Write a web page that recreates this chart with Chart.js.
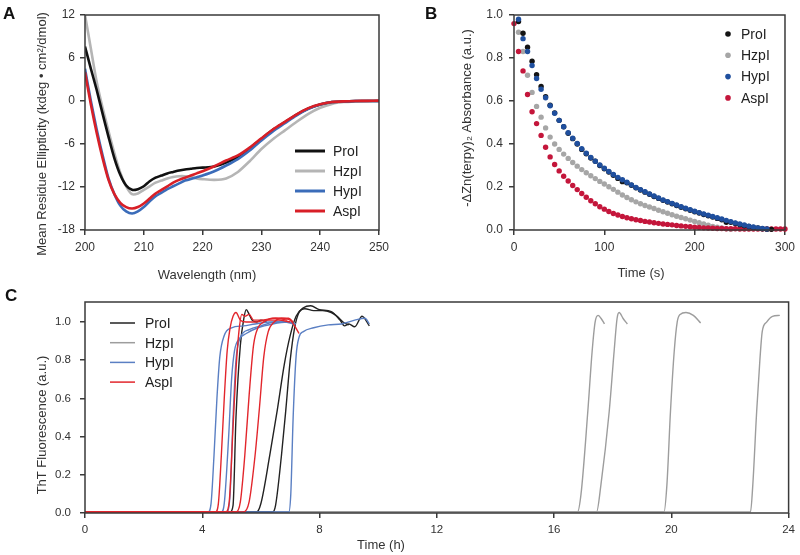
<!DOCTYPE html>
<html>
<head>
<meta charset="utf-8">
<title>CD, Zn(terpy)2 and ThT panels</title>
<script src="https://cdn.jsdelivr.net/npm/chart.js@4.4.1/dist/chart.umd.min.js"></script>
<style>
  body { margin: 0; background: #fff; }
  .panel { position: absolute; }
  #panelA { left: 0; top: 0; }
  #panelB { left: 400px; top: 0; }
  #panelC { left: 0; top: 285px; }
</style>
</head>
<body>
<canvas id="panelA" class="panel" width="400" height="290"></canvas>
<canvas id="panelB" class="panel" width="400" height="290"></canvas>
<canvas id="panelC" class="panel" width="800" height="270"></canvas>
<script>
const FONT = "'Liberation Sans', Arial, Helvetica, sans-serif";
const AXIS_COLOR = '#3a3a3a';

const peptides = ['ProI', 'HzpI', 'HypI', 'AspI'];

// Panel A: CD spectra (kdeg cm2/dmol)
const wavelengths = [200,201,202,203,204,205,206,207,208,209,210,211,212,213,214,215,216,217,218,219,220,222,224,226,228,230,232,234,236,238,240,242,244,246,248,250];
const cdPro = [7.6,4.5,1.5,-1.8,-5.0,-8.0,-10.3,-11.8,-12.4,-12.3,-11.9,-11.2,-10.7,-10.4,-10.1,-9.9,-9.7,-9.55,-9.45,-9.35,-9.3,-9.15,-8.6,-7.8,-6.6,-5.3,-4.0,-2.95,-1.9,-1.05,-0.5,-0.15,-0.05,0,0,0];
const cdHzp = [12,7.3,2.6,-1.0,-4.2,-7.3,-10.0,-11.9,-13.0,-12.9,-12.4,-11.9,-11.4,-11.1,-10.8,-10.6,-10.5,-10.5,-10.6,-10.8,-10.9,-11.0,-10.8,-9.9,-8.4,-6.7,-5.3,-4.1,-2.9,-1.8,-0.95,-0.4,-0.15,-0.05,0,0];
const cdHyp = [4.5,0,-4.0,-7.6,-10.8,-13.0,-14.6,-15.4,-15.7,-15.4,-14.8,-14.0,-13.3,-12.8,-12.3,-11.9,-11.5,-11.1,-10.9,-10.65,-10.4,-9.8,-9.0,-8.1,-6.9,-5.5,-4.2,-3.1,-2.0,-1.1,-0.5,-0.15,-0.05,0,0,0];
const cdAsp = [4.0,-0.5,-4.5,-8.0,-11.0,-13.0,-14.2,-14.8,-15.0,-14.8,-14.3,-13.6,-12.9,-12.4,-11.9,-11.4,-11.0,-10.7,-10.4,-10.1,-9.8,-9.1,-8.3,-7.6,-6.5,-5.2,-3.95,-2.9,-1.85,-1.0,-0.45,-0.15,-0.05,0,0.02,0.05];

// Panel B: -dZn(terpy)2 absorbance vs time (s)
const timesSec = [0,5,10,15,20,25,30,35,40,45,50,55,60,65,70,75,80,85,90,95,100,105,110,115,120,125,130,135,140,145,150,155,160,165,170,175,180,185,190,195,200,205,210,215,220,225,230,235,240,245,250,255,260,265,270,275,280,285,290,295,300];
const absPro = [null,0.97,0.915,0.85,0.785,0.722,0.668,0.62,0.58,0.545,0.51,0.48,0.45,0.425,0.40,0.375,0.355,0.335,0.32,0.30,0.285,0.27,0.255,0.24,0.225,0.22,0.208,0.196,0.186,0.176,0.166,0.156,0.147,0.138,0.13,0.122,0.114,0.106,0.099,0.092,0.085,0.079,0.072,0.066,0.06,0.054,0.048,0.036,0.036,0.03,0.025,0.02,0.016,0.012,0.009,0.006,0.004,0.003,null,null,null];
const absHzp = [null,0.92,0.83,0.72,0.64,0.575,0.525,0.475,0.432,0.40,0.375,0.353,0.333,0.314,0.297,0.281,0.266,0.252,0.239,0.226,0.214,0.201,0.189,0.176,0.163,0.151,0.141,0.131,0.122,0.114,0.107,0.10,0.092,0.085,0.078,0.071,0.064,0.058,0.052,0.046,0.04,0.034,0.028,0.022,0.017,0.013,0.009,0.006,0.004,null,null,null,null,null,null,null,null,null,null,null,null];
const absHyp = [null,0.98,0.89,0.83,0.765,0.705,0.655,0.615,0.578,0.543,0.51,0.48,0.452,0.427,0.402,0.378,0.357,0.337,0.32,0.302,0.287,0.272,0.258,0.245,0.234,0.222,0.21,0.198,0.188,0.178,0.168,0.158,0.149,0.14,0.132,0.124,0.116,0.108,0.101,0.094,0.087,0.081,0.075,0.069,0.063,0.057,0.051,0.045,0.039,0.033,0.028,0.023,0.018,0.014,0.01,0.007,0.005,null,null,null,null];
const absAsp = [0.96,0.83,0.74,0.63,0.55,0.495,0.44,0.385,0.34,0.305,0.275,0.25,0.228,0.207,0.188,0.17,0.152,0.136,0.122,0.108,0.097,0.086,0.077,0.07,0.063,0.057,0.052,0.048,0.044,0.04,0.037,0.034,0.031,0.028,0.026,0.024,0.021,0.019,0.017,0.015,0.013,0.012,0.01,0.009,0.008,0.007,0.007,0.006,0.006,0.006,0.005,0.005,0.005,0.005,0.005,0.005,0.005,0.005,0.005,0.005,0.005];

// Panel C: ThT fluorescence runs, [time (h), signal]
const proRun1 = [[0,0.005],[4.95,0.005],[5.05,0.04],[5.15,0.5],[5.3,0.88],[5.42,1.02],[5.5,1.065],[5.6,1.04],[5.7,1.01],[5.85,1.0],[6.0,1.01],[6.2,1.0]];
const proRun2 = [[0,0.005],[5.85,0.005],[6.0,0.05],[6.3,0.3],[6.56,0.54],[6.8,0.78],[7.0,0.93],[7.2,1.03],[7.45,1.075],[7.7,1.085],[8.0,1.065],[8.4,1.055],[8.7,1.01],[8.85,0.98],[9.0,0.99],[9.2,0.975],[9.45,1.03],[9.7,0.98]];
const proRun3 = [[0,0.005],[6.4,0.005],[6.5,0.04],[6.7,0.3],[6.85,0.54],[7.0,0.8],[7.15,0.97],[7.3,1.05],[7.5,1.07],[7.8,1.06],[8.1,1.06],[8.4,1.05],[8.6,1.03],[8.8,1.0],[9.0,0.985]];
const hzpRun1 = [[0,0.006],[16.8,0.006],[16.92,0.1],[17.15,0.53],[17.3,0.85],[17.4,1.0],[17.5,1.035],[17.6,1.02],[17.72,0.99]];
const hzpRun2 = [[0,0.006],[17.45,0.006],[17.6,0.15],[17.88,0.53],[18.05,0.85],[18.15,1.02],[18.22,1.05],[18.35,1.02],[18.5,0.99]];
const hzpRun3 = [[0,0.006],[19.75,0.006],[19.85,0.15],[19.97,0.53],[20.1,0.85],[20.2,1.0],[20.3,1.04],[20.5,1.05],[20.75,1.035],[21.0,0.995]];
const hzpRun4 = [[0,0.006],[22.7,0.006],[22.78,0.15],[22.91,0.53],[23.02,0.8],[23.1,0.95],[23.25,1.0],[23.45,1.03],[23.7,1.035]];
const hypRun1 = [[0,0.005],[4.2,0.005],[4.3,0.05],[4.4,0.3],[4.5,0.6],[4.6,0.82],[4.75,0.93],[5.0,0.97],[5.4,0.98],[5.8,0.99],[6.3,1.0],[6.8,1.0],[7.1,0.99]];
const hypRun2 = [[0,0.005],[4.65,0.005],[4.75,0.05],[4.9,0.4],[5.0,0.7],[5.1,0.85],[5.25,0.91],[5.5,0.94],[5.9,0.97],[6.4,0.99],[6.9,1.0],[7.2,0.99]];
const hypRun3 = [[0,0.005],[4.85,0.005],[4.95,0.1],[5.05,0.5],[5.15,0.8],[5.3,0.92],[5.6,0.96],[6.0,0.98],[6.5,1.0],[7.0,1.0]];
const hypRun4 = [[0,0.005],[6.95,0.005],[7.02,0.1],[7.1,0.5],[7.2,0.82],[7.3,0.92],[7.45,0.95],[7.8,0.97],[8.3,0.985],[8.75,0.99],[9.2,1.01],[9.55,1.02],[9.7,0.99]];
const aspRun1 = [[0,0.005],[4.45,0.005],[4.55,0.05],[4.65,0.3],[4.75,0.6],[4.85,0.85],[4.95,0.97],[5.05,1.03],[5.15,1.05],[5.3,1.01],[5.5,1.0],[5.8,1.0],[6.2,1.01],[6.6,1.01],[7.0,1.0]];
const aspRun2 = [[0,0.005],[4.8,0.005],[4.92,0.06],[5.05,0.45],[5.15,0.75],[5.25,0.95],[5.35,1.04],[5.45,1.03],[5.6,1.04],[5.75,1.01],[6.0,1.01],[6.5,1.02],[6.9,1.01]];
const aspRun3 = [[0,0.005],[5.15,0.005],[5.3,0.06],[5.45,0.3],[5.6,0.62],[5.75,0.88],[5.9,0.97],[6.1,1.0],[6.4,1.02],[6.7,1.02],[7.0,1.01],[7.15,0.98],[7.3,0.94]];
const aspRun4 = [[0,0.005],[5.4,0.005],[5.6,0.06],[5.8,0.3],[5.95,0.55],[6.1,0.82],[6.25,0.95],[6.45,1.0],[6.7,1.02],[6.95,1.02],[7.1,1.0]];

// colours per peptide, in the order of `peptides`
const colorsA = ['#111111', '#b5b5b5', '#3b6cb9', '#d81f27'];
const colorsB = ['#141414', '#a6a6a6', '#1f4f9e', '#c4163b'];
const colorsC = ['#222222', '#9d9d9d', '#5a7fc3', '#e2262c'];

Chart.defaults.font.family = FONT;
Chart.defaults.font.size = 12;
Chart.defaults.color = '#333';

// frame, panel letter, axis titles and legend drawn over the plot
const panelDecor = {
    id: 'panelDecor',
    afterDraw(chart, args, opts) {
        const ctx = chart.ctx;
        const a = chart.chartArea;
        ctx.save();
        ctx.strokeStyle = AXIS_COLOR;
        ctx.lineWidth = 1.5;
        ctx.strokeRect(a.left, a.top, a.right - a.left, a.bottom - a.top);

        ctx.fillStyle = '#111';
        ctx.textBaseline = 'middle';
        ctx.textAlign = 'left';
        ctx.font = 'bold 17px ' + FONT;
        ctx.fillText(opts.letter, opts.letterPos[0], opts.letterPos[1]);

        ctx.fillStyle = '#333';
        ctx.font = '13px ' + FONT;
        ctx.textAlign = 'center';
        ctx.fillText(opts.xTitle, opts.xTitlePos[0], opts.xTitlePos[1]);
        ctx.save();
        ctx.translate(opts.yTitlePos[0], opts.yTitlePos[1]);
        ctx.rotate(-Math.PI / 2);
        ctx.fillText(opts.yTitle, 0, 0);
        ctx.restore();

        const leg = opts.legend;
        ctx.font = '14px ' + FONT;
        ctx.textAlign = 'left';
        leg.colors.forEach((c, i) => {
            const y = leg.y + i * leg.dy;
            if (leg.kind === 'dot') {
                ctx.beginPath();
                ctx.arc(leg.x, y, 2.8, 0, Math.PI * 2);
                ctx.fillStyle = c;
                ctx.fill();
            } else {
                ctx.beginPath();
                ctx.moveTo(leg.x, y);
                ctx.lineTo(leg.x + leg.len, y);
                ctx.strokeStyle = c;
                ctx.lineWidth = leg.width;
                ctx.stroke();
            }
            ctx.fillStyle = '#222';
            ctx.fillText(peptides[i], leg.textX, y + 1);
        });
        ctx.restore();
    }
};

function linearAxis(o) {
    const axis = {
        type: 'linear',
        min: o.min,
        max: o.max,
        ticks: {
            stepSize: o.step,
            padding: o.padding,
            color: '#333',
            font: { size: o.fontSize || 12 },
            callback: o.format || (v => v)
        },
        grid: { drawOnChartArea: false, drawTicks: true, tickLength: 5, color: AXIS_COLOR, lineWidth: 1.5 },
        border: { display: false },
        afterFit: o.isX ? (s => { s.height = o.fit; }) : (s => { s.width = o.fit; })
    };
    if (o.lastTick !== undefined) {
        axis.afterBuildTicks = s => { s.ticks = s.ticks.filter(t => t.value <= o.lastTick + 1e-9); };
    }
    return axis;
}

const baseOptions = {
    responsive: false,
    animation: false,
    events: []
};

// Panel A
const cdSeries = [cdPro, cdHzp, cdHyp, cdAsp];
const cdOrder = [2, 3, 1, 0];
new Chart(document.getElementById('panelA'), {
    type: 'scatter',
    data: {
        datasets: cdSeries.map((vals, i) => ({
            label: peptides[i],
            data: wavelengths.map((w, j) => ({ x: w, y: vals[j] })),
            showLine: true,
            borderColor: colorsA[i],
            borderWidth: 2.6,
            pointRadius: 0,
            tension: 0.25,
            order: cdOrder[i]
        }))
    },
    options: Object.assign({}, baseOptions, {
        layout: { padding: { top: 15, right: 21, left: 0, bottom: 0 } },
        scales: {
            x: linearAxis({ min: 200, max: 250, step: 10, padding: 5, fit: 60, isX: true }),
            y: linearAxis({ min: -18, max: 12, step: 6, padding: 5, fit: 85 })
        },
        plugins: {
            legend: { display: false },
            tooltip: { enabled: false },
            panelDecor: {
                letter: 'A', letterPos: [3, 14],
                xTitle: 'Wavelength (nm)', xTitlePos: [207, 275],
                yTitle: 'Mean Residue Ellipticity (kdeg \u2022 cm\u00b2/dmol)', yTitlePos: [42, 134],
                legend: { kind: 'line', colors: colorsA, x: 295, len: 30, width: 3, textX: 333, y: 151, dy: 20 }
            }
        }
    }),
    plugins: [panelDecor]
});

// Panel B
const absSeries = [absPro, absHzp, absHyp, absAsp];
const absOrder = [1, 3, 0, 2];
new Chart(document.getElementById('panelB'), {
    type: 'scatter',
    data: {
        datasets: absSeries.map((vals, i) => ({
            label: peptides[i],
            data: timesSec.map((t, j) => ({ x: t, y: vals[j] })).filter(p => p.y !== null),
            pointRadius: 2.7,
            pointBorderWidth: 0,
            pointBackgroundColor: colorsB[i],
            backgroundColor: colorsB[i],
            clip: false,
            order: absOrder[i]
        }))
    },
    options: Object.assign({}, baseOptions, {
        layout: { padding: { top: 15, right: 9, left: 0, bottom: 0 } },
        scales: {
            x: linearAxis({ min: 0, max: 300, step: 100, padding: 5, fit: 60, isX: true }),
            y: linearAxis({ min: 0, max: 1, step: 0.2, padding: 6, fit: 114, format: v => v.toFixed(1) })
        },
        plugins: {
            legend: { display: false },
            tooltip: { enabled: false },
            panelDecor: {
                letter: 'B', letterPos: [25, 14],
                xTitle: 'Time (s)', xTitlePos: [241, 273],
                yTitle: '-\u0394Zn(terpy)\u2082 Absorbance (a.u.)', yTitlePos: [67, 118],
                legend: { kind: 'dot', colors: colorsB, x: 328, textX: 341, y: 34, dy: 21.3 }
            }
        }
    }),
    plugins: [panelDecor]
});

// Panel C
const thtRuns = [
    [proRun1, proRun2, proRun3],
    [hzpRun1, hzpRun2, hzpRun3, hzpRun4],
    [hypRun1, hypRun2, hypRun3, hypRun4],
    [aspRun1, aspRun2, aspRun3, aspRun4]
];
const thtOrder = [2, 3, 1, 0];
const thtDatasets = [];
thtRuns.forEach((runs, i) => {
    runs.forEach(run => {
        thtDatasets.push({
            label: peptides[i],
            data: run.map(p => ({ x: p[0], y: p[1] })),
            showLine: true,
            borderColor: colorsC[i],
            borderWidth: 1.4,
            pointRadius: 0,
            cubicInterpolationMode: 'monotone',
            order: thtOrder[i]
        });
    });
});
new Chart(document.getElementById('panelC'), {
    type: 'scatter',
    data: { datasets: thtDatasets },
    options: Object.assign({}, baseOptions, {
        layout: { padding: { top: 17, right: 8, left: 0, bottom: 0 } },
        scales: {
            x: linearAxis({ min: 0, max: 24, step: 4, padding: 5, fit: 42, isX: true, fontSize: 11.5 }),
            y: linearAxis({ min: 0, max: 1.105, step: 0.2, padding: 9, fit: 85, fontSize: 11.5, lastTick: 1.0,
                            format: v => v.toFixed(1) })
        },
        plugins: {
            legend: { display: false },
            tooltip: { enabled: false },
            panelDecor: {
                letter: 'C', letterPos: [5, 11],
                xTitle: 'Time (h)', xTitlePos: [381, 260],
                yTitle: 'ThT Fluorescence (a.u.)', yTitlePos: [42, 140],
                legend: { kind: 'line', colors: colorsC, x: 110, len: 25, width: 1.5, textX: 145, y: 38, dy: 19.7 }
            }
        }
    }),
    plugins: [panelDecor]
});
</script>
</body>
</html>
